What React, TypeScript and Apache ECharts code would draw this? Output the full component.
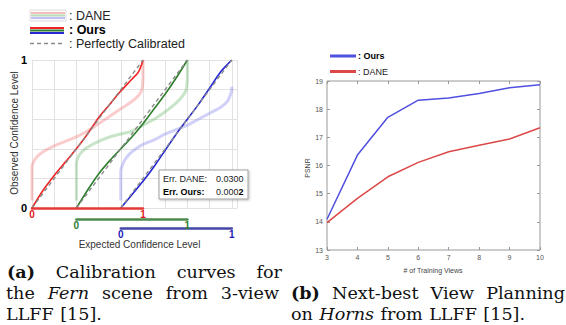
import React, { useEffect, useRef } from "react";
import * as echarts from "echarts";

// ---------- Data: calibration curves (unit coordinates: expected, observed) ----------
const GROUP_OFFSETS = [0, 0.4, 0.8];
const OURS_RED: number[][] = [[0, 0], [0.1, 0.12], [0.2, 0.22], [0.3, 0.31], [0.4, 0.4], [0.5, 0.5], [0.6, 0.61], [0.7, 0.7], [0.8, 0.79], [0.9, 0.87], [0.96, 0.92], [1, 1]];
const OURS_GREEN: number[][] = [[0, 0], [0.1, 0.12], [0.2, 0.23], [0.3, 0.32], [0.4, 0.4], [0.5, 0.48], [0.6, 0.57], [0.7, 0.67], [0.8, 0.77], [0.9, 0.88], [1, 1]];
const OURS_BLUE: number[][] = [[0, 0], [0.1, 0.09], [0.2, 0.18], [0.3, 0.28], [0.4, 0.39], [0.5, 0.5], [0.6, 0.6], [0.7, 0.7], [0.8, 0.81], [0.9, 0.92], [0.96, 0.97], [1, 1]];
const DANE_RED: number[][] = [[0, 0.05], [0, 0.28], [0.02, 0.32], [0.05, 0.35], [0.1, 0.38], [0.2, 0.42], [0.3, 0.45], [0.4, 0.48], [0.5, 0.52], [0.6, 0.57], [0.7, 0.62], [0.8, 0.67], [0.9, 0.72], [0.96, 0.76], [0.99, 0.8], [1, 0.88], [1, 1]];
const DANE_GREEN: number[][] = [[0, 0.05], [0, 0.3], [0.02, 0.35], [0.05, 0.38], [0.1, 0.41], [0.2, 0.45], [0.3, 0.48], [0.4, 0.5], [0.5, 0.52], [0.6, 0.56], [0.7, 0.6], [0.8, 0.65], [0.9, 0.71], [0.96, 0.76], [0.99, 0.8], [1, 0.9], [1, 1]];
const DANE_BLUE: number[][] = [[0, 0.05], [0, 0.25], [0.02, 0.3], [0.05, 0.34], [0.1, 0.38], [0.2, 0.43], [0.3, 0.46], [0.4, 0.5], [0.5, 0.53], [0.6, 0.56], [0.7, 0.6], [0.8, 0.64], [0.9, 0.68], [0.96, 0.72], [0.99, 0.77], [1, 0.8], [1, 0.82]];
const PERFECT: number[][] = [[0, 0], [1, 1]];
const ERR_DANE = "0.0300";
const ERR_OURS_HEAD = "0.000";
const ERR_OURS_TAIL = "2";

// ---------- Data: next-best view planning ----------
const VIEWS = [3, 4, 5, 6, 7, 8, 9, 10];
const PSNR_OURS = [14.09, 16.37, 17.71, 18.32, 18.4, 18.56, 18.76, 18.87];
const PSNR_DANE = [13.97, 14.83, 15.6, 16.11, 16.49, 16.72, 16.94, 17.34];

// ---------- Captions ----------
type Word = { t: string; w?: string; s?: string };
const CAPTION_LINES: { x0: number; x1?: number; y: number; words: Word[] }[] = [
  { x0: 7, x1: 282, y: 277, words: [{ t: "(a)", w: "bold" }, { t: "Calibration" }, { t: "curves" }, { t: "for" }] },
  { x0: 6, x1: 279, y: 298, words: [{ t: "the" }, { t: "Fern", s: "italic" }, { t: "scene" }, { t: "from" }, { t: "3-view" }] },
  { x0: 291, x1: 565, y: 298, words: [{ t: "(b)", w: "bold" }, { t: "Next-best" }, { t: "View" }, { t: "Planning" }] },
  { x0: 6, y: 319, words: [{ t: "LLFF" }, { t: "[15]." }] },
  { x0: 291, y: 319, words: [{ t: "on" }, { t: "Horns", s: "italic" }, { t: "from" }, { t: "LLFF" }, { t: "[15]." }] },
];

// ---------- Layout / style ----------
const L_LEFT = 32;
const L_TOP = 60;
const L_H = 148;
const UNIT = 111;
const SANS = "Liberation Sans";
const SERIF = "DejaVu Serif";
const CAP_SIZE = 16;
const GROUP_COLORS = ["#ee2424", "#2f7f2f", "#2626d4"];
const AXIS_COLORS = ["#e53935", "#4d8b4d", "#4646a8"];
const LABEL_COLORS = ["#e02020", "#2e7d32", "#1c1cb8"];
const DANE_COLORS = ["rgba(240,110,110,0.35)", "rgba(100,180,100,0.35)", "rgba(120,120,235,0.35)"];
const AXIS_OFFSETS = [0, 11, 20];

const shift = (pts: number[][], off: number) => pts.map(([x, y]) => [x + off, y]);

function buildCaptions(): any[] {
  const ctx = document.createElement("canvas").getContext("2d");
  const measure = (w: Word) => {
    if (!ctx) return w.t.length * CAP_SIZE * 0.6;
    ctx.font = `${w.s || "normal"} ${w.w || "normal"} ${CAP_SIZE}px "${SERIF}"`;
    return ctx.measureText(w.t).width;
  };
  const sx = 100 / measure({ t: "Calibration" });
  const space = measure({ t: " " }) * sx * 1.15;
  const out: any[] = [];
  CAPTION_LINES.forEach((line) => {
    const widths = line.words.map((w) => measure(w) * sx);
    const total = widths.reduce((a, b) => a + b, 0);
    const gap = line.x1 !== undefined && line.words.length > 1 ? (line.x1 - line.x0 - total) / (line.words.length - 1) : space;
    let x = line.x0;
    line.words.forEach((w, i) => {
      out.push({
        type: "text", x, y: line.y - 5, z: 20, scaleX: sx,
        style: {
          text: w.t, fill: "#111", fontFamily: SERIF, fontSize: CAP_SIZE,
          fontWeight: w.w || "normal", fontStyle: w.s || "normal",
          align: "left", verticalAlign: "middle",
        },
      });
      x += widths[i] + gap;
    });
  });
  return out;
}

export default function App() {
  const ref = useRef<HTMLDivElement>(null);
  useEffect(() => {
    if (!ref.current) return;
    const chart = echarts.init(ref.current, undefined, { renderer: "svg" });

    const ours = [OURS_RED, OURS_GREEN, OURS_BLUE];
    const dane = [DANE_RED, DANE_GREEN, DANE_BLUE];

    const series: any[] = [];
    dane.forEach((pts, i) => {
      series.push({
        type: "line", xAxisIndex: 0, yAxisIndex: 0, symbol: "none", smooth: 0.25,
        data: shift(pts, GROUP_OFFSETS[i]),
        lineStyle: { color: DANE_COLORS[i], width: 3 }, z: 2,
      });
    });
    ours.forEach((pts, i) => {
      series.push({
        type: "line", xAxisIndex: 0, yAxisIndex: 0, symbol: "none", smooth: 0.3,
        data: shift(pts, GROUP_OFFSETS[i]),
        lineStyle: { color: GROUP_COLORS[i], width: 1.6 }, z: 3,
      });
    });
    GROUP_OFFSETS.forEach((off) => {
      series.push({
        type: "line", xAxisIndex: 0, yAxisIndex: 0, symbol: "none",
        data: shift(PERFECT, off),
        lineStyle: { color: "#8a8a8a", width: 1.4, type: [4, 3] }, z: 4,
      });
    });
    series.push({
      type: "line", xAxisIndex: 4, yAxisIndex: 4, symbol: "none",
      data: VIEWS.map((v, i) => [v, PSNR_OURS[i]]),
      lineStyle: { color: "#4f4fe0", width: 1.5 },
    });
    series.push({
      type: "line", xAxisIndex: 4, yAxisIndex: 4, symbol: "none",
      data: VIEWS.map((v, i) => [v, PSNR_DANE[i]]),
      lineStyle: { color: "#dc4848", width: 1.5 },
    });

    const grids: any[] = [
      { left: L_LEFT, top: L_TOP, width: UNIT * 1.85, height: L_H },
      ...GROUP_OFFSETS.map((off) => ({ left: L_LEFT + off * UNIT, top: L_TOP, width: UNIT, height: L_H })),
      { left: 327, top: 81, width: 213, height: 169, show: true, borderColor: "#999", borderWidth: 1 },
    ];

    const xAxes: any[] = [
      {
        gridIndex: 0, type: "value", min: 0, max: 1.85, interval: 0.2,
        axisLine: { show: false }, axisTick: { show: false }, axisLabel: { show: false },
        splitLine: { show: true, lineStyle: { color: "#e2e2e2", width: 1 } },
      },
      ...GROUP_OFFSETS.map((_, i) => ({
        gridIndex: i + 1, type: "value", min: 0, max: 1, interval: 1, offset: AXIS_OFFSETS[i], position: "bottom",
        axisLine: { show: true, onZero: false, lineStyle: { color: AXIS_COLORS[i], width: 2.5 } },
        axisTick: { show: false }, splitLine: { show: false },
        axisLabel: { color: LABEL_COLORS[i], fontWeight: "bold", fontSize: 10, margin: 1, fontFamily: SANS },
        z: 5,
      })),
      {
        gridIndex: 4, type: "value", min: 3, max: 10, interval: 1, position: "bottom",
        axisLine: { show: false }, splitLine: { show: false },
        axisTick: { show: true, inside: true, length: 3, lineStyle: { color: "#999" } },
        axisLabel: { fontSize: 7, color: "#555", margin: 4, fontFamily: SANS },
      },
      {
        gridIndex: 4, type: "value", min: 3, max: 10, interval: 1, position: "top",
        axisLine: { show: false }, splitLine: { show: false }, axisLabel: { show: false },
        axisTick: { show: true, inside: true, length: 3, lineStyle: { color: "#999" } },
      },
    ];

    const yAxes: any[] = [
      {
        gridIndex: 0, type: "value", min: 0, max: 1, interval: 0.2,
        axisLine: { show: false }, axisTick: { show: false },
        splitLine: { show: true, lineStyle: { color: "#e2e2e2", width: 1 } },
        axisLabel: {
          fontSize: 11, fontWeight: "bold", color: "#000", margin: 5, fontFamily: SANS,
          formatter: (v: number) => (Math.abs(v) < 1e-9 ? "0" : Math.abs(v - 1) < 1e-9 ? "1" : ""),
        },
      },
      ...GROUP_OFFSETS.map((_, i) => ({ gridIndex: i + 1, type: "value", min: 0, max: 1, show: false })),
      {
        gridIndex: 4, type: "value", min: 13, max: 19, interval: 1, position: "left",
        axisLine: { show: false }, splitLine: { show: false },
        axisTick: { show: true, inside: true, length: 3, lineStyle: { color: "#999" } },
        axisLabel: { fontSize: 7, color: "#555", margin: 4, fontFamily: SANS },
      },
      {
        gridIndex: 4, type: "value", min: 13, max: 19, interval: 1, position: "right",
        axisLine: { show: false }, splitLine: { show: false }, axisLabel: { show: false },
        axisTick: { show: true, inside: true, length: 3, lineStyle: { color: "#999" } },
      },
    ];

    const txt = (text: string, x: number, y: number, extra: any = {}, elExtra: any = {}) => ({
      type: "text", x, y, z: 20, ...elExtra,
      style: { text, fill: "#222", fontFamily: SANS, fontSize: 10, align: "left", verticalAlign: "middle", ...extra },
    });
    const ln = (x1: number, y1: number, x2: number, y2: number, stroke: string, lineWidth: number, lineDash?: number[]) => ({
      type: "line", z: 20, shape: { x1, y1, x2, y2 }, style: { stroke, lineWidth, lineDash },
    });

    const graphics: any[] = [
      // left legend
      { type: "rect", z: 19, shape: { x: 30, y: 10, width: 36, height: 11 }, style: { fill: "#fbfbfb", stroke: "#dddddd", lineWidth: 1 } },
      ln(31, 13, 65, 13, "rgba(240,110,110,0.45)", 2),
      ln(31, 15.5, 65, 15.5, "rgba(100,180,100,0.45)", 2),
      ln(31, 18, 65, 18, "rgba(120,120,235,0.45)", 2),
      ln(30, 28, 64, 28, GROUP_COLORS[0], 2),
      ln(30, 30.5, 64, 30.5, GROUP_COLORS[1], 2),
      ln(30, 33, 64, 33, GROUP_COLORS[2], 2),
      ln(30, 43.5, 64, 43.5, "#8a8a8a", 1.5, [4, 3]),
      txt(": DANE", 69, 15.5, { fontSize: 12.5 }),
      txt(": Ours", 69, 30, { fontSize: 12.5, fontWeight: "bold", fill: "#000" }),
      txt(": Perfectly Calibrated", 69, 44, { fontSize: 12.5 }),
      // axis titles (left)
      txt("Observed Confidence Level", 14, 133, { fontSize: 10, align: "center", fill: "#333" }, { rotation: Math.PI / 2 }),
      txt("Expected Confidence Level", 139.5, 244, { fontSize: 10, align: "center", fill: "#333" }),
      // error box
      { type: "rect", z: 19, shape: { x: 159, y: 170, width: 89, height: 29 }, style: { fill: "#fff", stroke: "#a0a0a0", lineWidth: 1, shadowBlur: 2, shadowColor: "rgba(0,0,0,0.25)", shadowOffsetX: 1, shadowOffsetY: 1 } },
      txt("Err. DANE:", 163, 178.5, { fontSize: 9 }),
      txt(ERR_DANE, 216, 178.5, { fontSize: 9 }),
      txt("Err. Ours:", 163, 191.5, { fontSize: 9, fontWeight: "bold", fill: "#000" }),
      {
        type: "text", x: 216, y: 191.5, z: 20,
        style: {
          text: `{a|${ERR_OURS_HEAD}}{b|${ERR_OURS_TAIL}}`, verticalAlign: "middle", align: "left",
          rich: {
            a: { fontSize: 9, fontFamily: SANS, fill: "#222" },
            b: { fontSize: 9, fontFamily: SANS, fontWeight: "bold", fill: "#000" },
          },
        },
      },
      // right legend
      ln(330, 56, 356, 56, "#4f4fe0", 3),
      ln(330, 71.5, 356, 71.5, "#dc4848", 3),
      txt(": Ours", 358, 56, { fontSize: 9, fontWeight: "bold", fill: "#000" }),
      txt(": DANE", 358, 71.5, { fontSize: 9 }),
      // right axis titles
      txt("PSNR", 307.5, 168, { fontSize: 7, align: "center", fill: "#444" }, { rotation: Math.PI / 2 }),
      txt("# of Training Views", 433, 270, { fontSize: 7, align: "center", fill: "#444" }),
      // captions
      ...buildCaptions(),
    ];

    chart.setOption({
      animation: false,
      backgroundColor: "#ffffff",
      grid: grids,
      xAxis: xAxes,
      yAxis: yAxes,
      series,
      graphic: graphics,
    });
    return () => chart.dispose();
  }, []);
  return <div ref={ref} style={{ position: "fixed", left: 0, top: 0, width: 566, height: 325 }} />;
}
